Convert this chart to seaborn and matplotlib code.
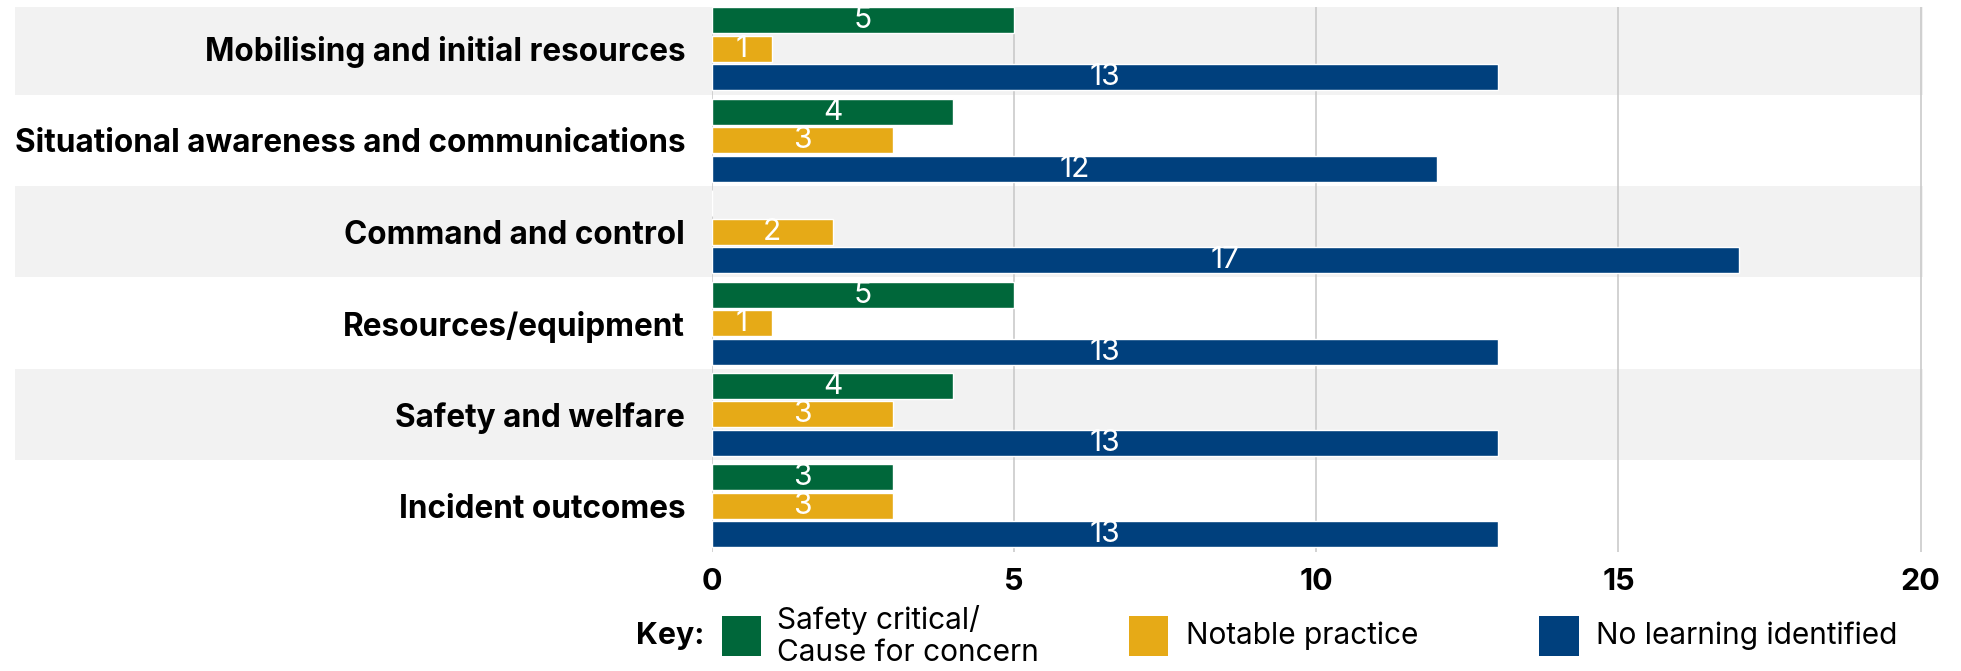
import matplotlib
matplotlib.use("Agg")
import matplotlib.pyplot as plt
import seaborn as sns
import pandas as pd
from matplotlib.patches import Rectangle

categories = [
    "Mobilising and initial resources",
    "Situational awareness and communications",
    "Command and control",
    "Resources/equipment",
    "Safety and welfare",
    "Incident outcomes",
]
series_names = ["Safety critical/\nCause for concern", "Notable practice", "No learning identified"]
safety_critical = [5, 4, 0, 5, 4, 3]
notable_practice = [1, 3, 2, 1, 3, 3]
no_learning = [13, 12, 17, 13, 13, 13]
x_ticks = [0, 5, 10, 15, 20]
colors = ["#00673A", "#E6AA17", "#00407D"]

rows = []
for name, vals in zip(series_names, [safety_critical, notable_practice, no_learning]):
    for c, v in zip(categories, vals):
        rows.append({"category": c, "series": name, "value": v})
df = pd.DataFrame(rows)

sns.set_style("white")
plt.rcParams["font.family"] = ["Inter", "DejaVu Sans"]
plt.rcParams["text.color"] = "black"
plt.rcParams["xtick.color"] = "black"
plt.rcParams["ytick.color"] = "black"

W, H = 1961, 671
fig = plt.figure(figsize=(W / 100, H / 100), dpi=100)
ax_left, ax_right = 711.6, 1922.5
ax_top, ax_bot = 7.3, 551.5
ax = fig.add_axes([ax_left / W, (H - ax_bot) / H, (ax_right - ax_left) / W, (ax_bot - ax_top) / H])

sns.barplot(data=df, y="category", x="value", hue="series", hue_order=series_names,
            order=categories, palette=colors, orient="h", width=0.936, gap=0.087,
            saturation=1, errorbar=None, legend=False, ax=ax, zorder=2)

ax.set_xlim(0, 20.03)
ax.set_ylim(5.5, -0.455)

# alternating bands
xmin_frac = (15 - ax_left) / (ax_right - ax_left)
for i in range(len(categories)):
    if i % 2 == 0:
        ax.axhspan(max(i - 0.5, -0.455), i + 0.5, xmin=xmin_frac, xmax=1.0,
                   color="#F2F2F2", zorder=0, clip_on=False, linewidth=0)

ax.set_xticks(x_ticks)
ax.set_xticklabels([str(t) for t in x_ticks], fontsize=22, fontweight="bold", color="black")
ax.grid(axis="x", color="#C6C6C6", linewidth=1.1, zorder=0.5)
ax.grid(axis="y", visible=False)
ax.set_axisbelow(True)
for s in ax.spines.values():
    s.set_visible(False)
ax.tick_params(axis="both", length=0)
ax.tick_params(axis="x", pad=12)
ax.tick_params(axis="y", pad=19)
for lbl in ax.get_yticklabels():
    lbl.set_fontsize(22.7)
    lbl.set_fontweight("bold")
    lbl.set_color("black")
ax.set_xlabel("")
ax.set_ylabel("")

for cont in ax.containers:
    vals = cont.datavalues
    labels = ["" if v == 0 else f"{int(v)}" for v in vals]
    texts = ax.bar_label(cont, labels=labels, label_type="center", color="white", fontsize=21.5)
    for t in texts:
        t.set_y(t.get_position()[1])
        t.set_transform(t.get_transform() + matplotlib.transforms.ScaledTranslation(0, -1.5 / 72, fig.dpi_scale_trans))

# key
fig.text(704 / W, 1 - 636 / H, "Key:", ha="right", va="center", fontsize=21.8,
         fontweight="bold", color="black")
legend_items = [(721.5, 777), (1128.5, 1186), (1539, 1596)]
for (sx, tx), name, col in zip(legend_items, series_names, colors):
    fig.add_artist(Rectangle((sx / W, 1 - 656 / H), 39.5 / W, 40 / H,
                             transform=fig.transFigure, facecolor=col, edgecolor="none"))
    fig.text(tx / W, 1 - 636 / H, name, ha="left", va="center", fontsize=21.5,
             linespacing=1.2, color="black")

fig.savefig("out.png", dpi=100)
